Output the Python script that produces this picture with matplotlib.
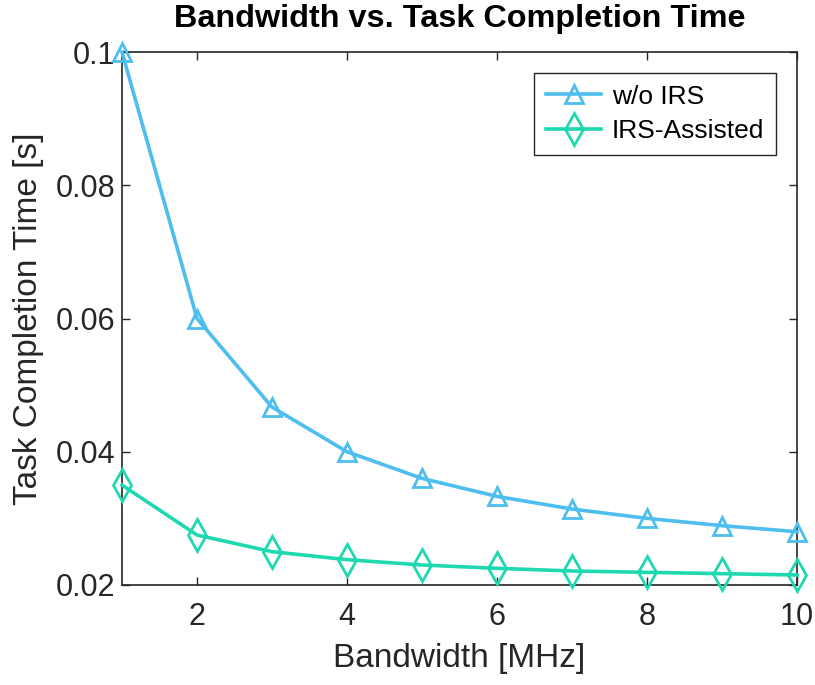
import matplotlib
matplotlib.use('Agg')
import matplotlib.pyplot as plt
from matplotlib.ticker import FuncFormatter

plt.rcParams['font.family'] = ['Liberation Sans', 'DejaVu Sans']

# Bandwidth [MHz]
bandwidth = [1, 2, 3, 4, 5, 6, 7, 8, 9, 10]
# Task completion time [s]
sem_irs = [0.1, 0.06, 0.0467, 0.04, 0.036, 0.0333, 0.0314, 0.03, 0.0289, 0.028]
com_irs = [0.035, 0.0275, 0.025, 0.0238, 0.023, 0.0225, 0.0221, 0.0219, 0.0217, 0.0215]

x_ticks = [2, 4, 6, 8, 10]
y_ticks = [0.02, 0.04, 0.06, 0.08, 0.1]

cor_azul = '#4DBEEE'
cor_verde = '#1ED9B0'
cinza = '#262626'

fig = plt.figure(figsize=(8.15, 6.85), dpi=100)
ax = fig.add_axes([0.1497, 0.146, 0.8283, 0.778])

ax.plot(bandwidth, sem_irs, color=cor_azul, linewidth=2.6, marker='^',
        markersize=12.5, markerfacecolor='none', markeredgewidth=2.0,
        label='w/o IRS', clip_on=False, zorder=4)
ax.plot(bandwidth, com_irs, color=cor_verde, linewidth=2.6, marker='d',
        markersize=16, markerfacecolor='none', markeredgewidth=2.0,
        label='IRS-Assisted', clip_on=False, zorder=4)

ax.set_xlim(1, 10)
ax.set_ylim(0.02, 0.1)
ax.set_xticks(x_ticks)
ax.set_yticks(y_ticks)
ax.yaxis.set_major_formatter(FuncFormatter(lambda v, p: f'{v:g}'))

ax.tick_params(direction='in', length=6, width=1, colors=cinza,
               labelsize=22, top=True, right=True)
ax.tick_params(axis='x', pad=12)
ax.tick_params(axis='y', pad=5)
for lado in ax.spines.values():
    lado.set_color(cinza)
    lado.set_linewidth(1.2)

ax.set_xlabel('Bandwidth [MHz]', fontsize=24, color=cinza, labelpad=8)
ax.set_ylabel('Task Completion Time [s]', fontsize=24, color=cinza, labelpad=8)
ax.set_title('Bandwidth vs. Task Completion Time', fontsize=23.3,
             fontweight='bold', pad=18)

leg = ax.legend(loc='upper right', fontsize=19, fancybox=False,
                framealpha=1, edgecolor=cinza, borderpad=0.45,
                handlelength=2.1, handletextpad=0.4, labelspacing=0.4,
                borderaxespad=0, bbox_to_anchor=(0.969, 0.961))
leg.get_frame().set_linewidth(1)

plt.savefig('out.png', dpi=100)
plt.close()
